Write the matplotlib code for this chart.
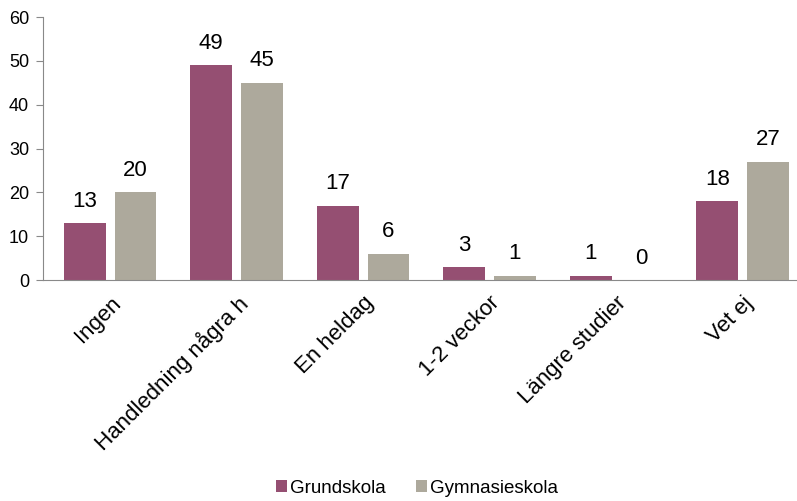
import numpy as np
import matplotlib as mpl
import matplotlib.pyplot as plt

mpl.rc('font', family=['Liberation Sans', 'DejaVu Sans'])

categories = ['Ingen', 'Handledning några h', 'En heldag', '1-2 veckor', 'Längre studier', 'Vet ej']
grundskola = [13, 49, 17, 3, 1, 18]
gymnasieskola = [20, 45, 6, 1, 0, 27]

c_grund = '#954F72'
c_gym = '#ADA99C'

fig = plt.figure(figsize=(7.97, 5.01), dpi=100)
ax = fig.add_axes([0.054, 0.441, 0.946, 0.525])

x = np.arange(len(categories))
w = 0.33
b1 = ax.bar(x - 0.2, grundskola, w, color=c_grund, label='Grundskola')
b2 = ax.bar(x + 0.2, gymnasieskola, w, color=c_gym, label='Gymnasieskola')

# value labels above the bars
for bars, vals in [(b1, grundskola), (b2, gymnasieskola)]:
    for r, v in zip(bars, vals):
        ax.text(r.get_x() + r.get_width() / 2, v + 2.6, str(v),
                ha='center', va='bottom', fontsize=16)

ax.set_ylim(0, 60)
ax.set_yticks(range(0, 61, 10))
ax.set_xlim(-0.53, 5.43)
ax.set_xticks(x)
ax.set_xticklabels(categories, rotation=45, ha='right', rotation_mode='anchor', fontsize=16)
ax.tick_params(axis='x', length=0, pad=9)
ax.tick_params(axis='y', length=5, color='#898989', labelsize=13, pad=5)

for s in ['top', 'right']:
    ax.spines[s].set_visible(False)
ax.spines['left'].set_color('#898989')
ax.spines['bottom'].set_color('#898989')

fig.legend(loc='lower center', bbox_to_anchor=(0.523, -0.025), ncol=2, frameon=False,
           fontsize=13.5, handlelength=0.6, handleheight=0.6, handletextpad=0.15, columnspacing=1.6)

plt.savefig('out.png', dpi=100)
